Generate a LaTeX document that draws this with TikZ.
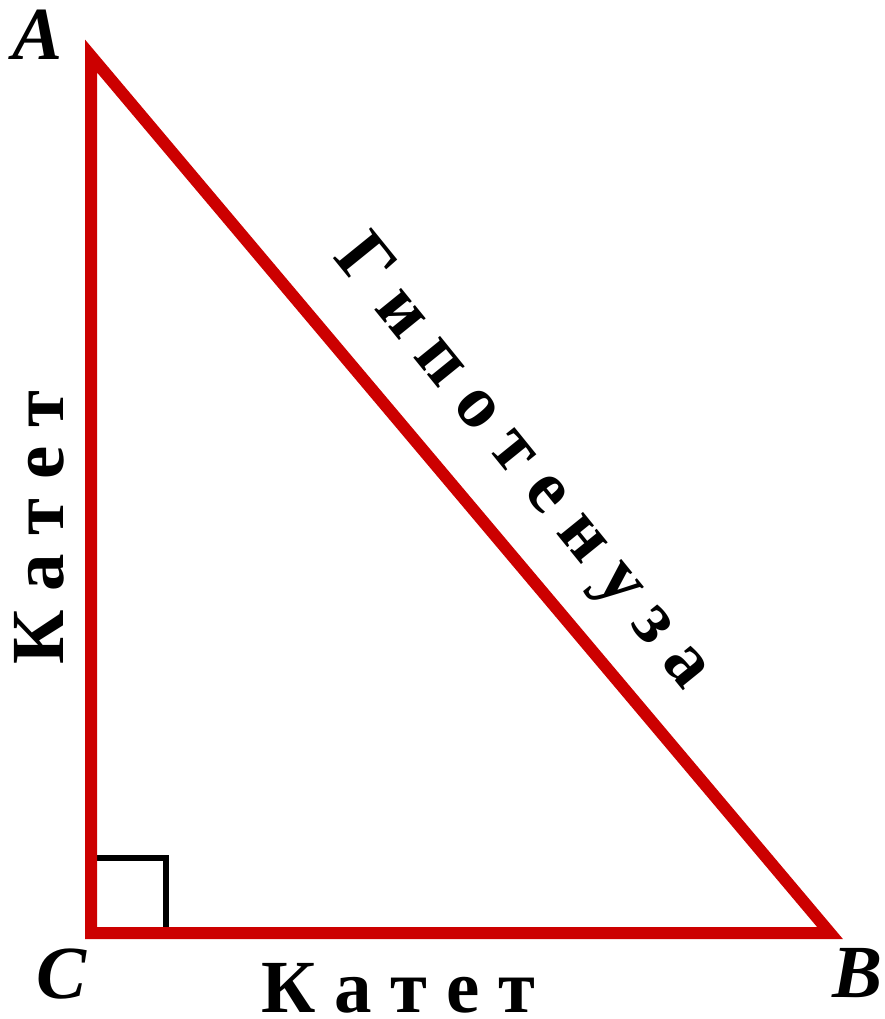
\documentclass[tikz,border=0pt]{standalone}
\usepackage{fontspec}
\setmainfont{Liberation Serif}
\usepackage{xcolor}
\definecolor{trired}{RGB}{204,0,0}

\begin{document}
\begin{tikzpicture}[
  x=1pt, y=-1pt,
  side/.style={
    draw=trired, line width=12pt,
    line join=miter
  },
  corner/.style={draw=black, line width=6pt},
  vertex/.style={
    font=\fontsize{75}{80}\selectfont\bfseries\itshape,
    inner sep=0pt, anchor=base
  },
  legname/.style={
    font=\fontsize{75}{80}\selectfont\bfseries,
    inner sep=0pt, anchor=base west
  }
]
\useasboundingbox (0,0) rectangle (884,1019);

\coordinate (A) at (91,56);
\coordinate (B) at (830,933);
\coordinate (C) at (91,933);
\coordinate (sqtop)  at (91,858);
\coordinate (sqmid)  at (166,858);
\coordinate (sqfoot) at (166,933);

% right angle mark, then the sides over it
\draw[corner] (sqtop) -- (sqmid) -- (sqfoot);
\draw[side] (A) -- (B) -- (C) -- cycle;

\node[vertex] (lblA) at (38,60)  {A};
\node[vertex] (lblC) at (62,998) {C};
\node[vertex] (lblB) at (857,997) {B};

\node[legname] (katetCB) at (261,1012) {К а т е т};
\node[legname, rotate=90] (katetCA) at (63,665) {К а т е т};
\node[legname, rotate=-51] (hyp) at (332,257) {Г и п о т е н у з а};

\end{tikzpicture}
\end{document}
